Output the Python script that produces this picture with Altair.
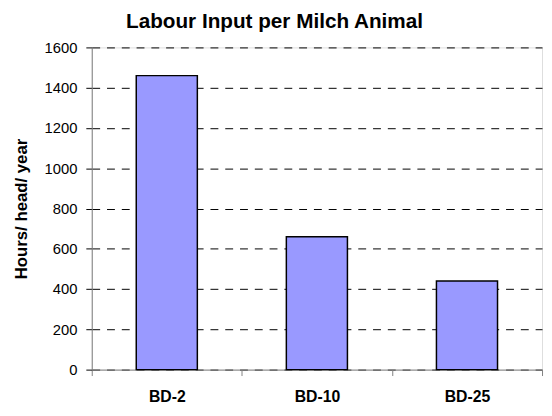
import altair as alt
import pandas as pd

categories = ["BD-2", "BD-10", "BD-25"]
hours = [1460, 660, 440]
y_ticks = [0, 200, 400, 600, 800, 1000, 1200, 1400, 1600]

df = pd.DataFrame({"group": categories, "hours": hours})

FONT = "Liberation Sans"

chart = alt.Chart(df).mark_bar(
    size=62, fill="#9999FF", stroke="black", strokeWidth=1.5
).encode(
    x=alt.X("group:N", sort=categories, title=None,
            scale=alt.Scale(paddingInner=0, paddingOuter=0),
            axis=alt.Axis(labelAngle=0, tickBand="extent", tickSize=6,
                          labelPadding=13, labelFontWeight="bold",
                          labelFontSize=16, labelFont=FONT, labelColor="black",
                          domainColor="#808080", tickColor="#808080",
                          grid=False)),
    y=alt.Y("hours:Q", title="Hours/ head/ year",
            scale=alt.Scale(domain=[0, 1600], nice=False),
            axis=alt.Axis(values=y_ticks, format="d", tickSize=6, labelPadding=9,
                          labelFontSize=15, labelFont=FONT, labelColor="black",
                          titleFont=FONT, titleFontSize=17, titleFontWeight="bold",
                          titleColor="black", titlePadding=14,
                          domainColor="#808080", tickColor="black",
                          grid=True, gridColor="black", gridDash=[8, 7],
                          gridWidth=1)),
).properties(
    width=457, height=327,
    title=alt.TitleParams("Labour Input per Milch Animal", font=FONT, fontSize=21,
                          fontWeight="bold", color="black", anchor="middle",
                          dx=-43, offset=9),
    autosize=alt.AutoSizeParams(type="none"),
    padding={"left": 85, "top": 37, "right": 2, "bottom": 40},
).configure_view(stroke=None).configure(background="white")

chart.save("out.html", embed_options={"renderer": "svg", "actions": False})
